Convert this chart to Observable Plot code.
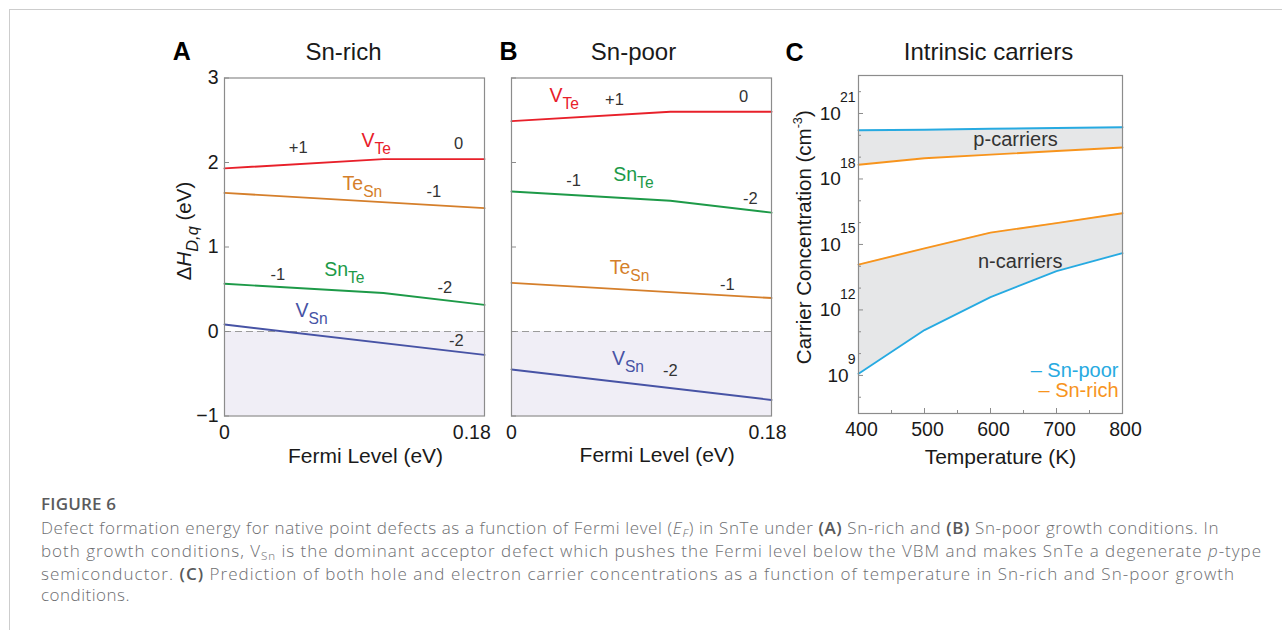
<!DOCTYPE html>
<html>
<head>
<meta charset="utf-8">
<script src="https://cdn.jsdelivr.net/npm/d3@7"></script>
<script src="https://cdn.jsdelivr.net/npm/@observablehq/plot@0.6"></script>
<style>
  html, body { margin: 0; padding: 0; background: #fff; }
  body { width: 1282px; height: 630px; overflow: hidden; position: relative; }
  #border { position: absolute; left: 9px; top: 9px; width: 1400px; height: 800px;
            border-top: 1px solid #cdcdcd; border-left: 1px solid #cdcdcd; }
  .panel { position: absolute; }
  .panel svg { max-width: none; overflow: visible; background: transparent; }
  #caption { position: absolute; left: 41px; top: 493px; font-family: "Open Sans", sans-serif; color: #6d6e71; }
  #caption .head { font-size: 17px; font-weight: 600; color: #5a5b5d; line-height: 21px; letter-spacing: 0.2px; }
  #caption .lines { position: absolute; left: 0; top: 24px; font-size: 17px; font-weight: 300; line-height: 21px; white-space: nowrap; }
  #caption .cap-line { display: inline-block; }
  #caption b { font-weight: 600; color: #58595b; }
  #caption sub { font-size: 0.68em; vertical-align: baseline; position: relative; top: 0.28em; }
</style>
</head>
<body>
<div id="border"></div>
<div id="chart"></div>
<div id="caption">
  <div class="head">FIGURE 6</div>
  <div class="lines">
    <div><span class="cap-line" data-w="1178">Defect formation energy for native point defects as a function of Fermi level (<i>E<sub>F</sub></i>) in SnTe under <b>(A)</b> Sn-rich and <b>(B)</b> Sn-poor growth conditions. In</span></div>
    <div><span class="cap-line" data-w="1221">both growth conditions, V<sub>Sn</sub> is the dominant acceptor defect which pushes the Fermi level below the VBM and makes SnTe a degenerate <i>p</i>-type</span></div>
    <div><span class="cap-line" data-w="1194">semiconductor. <b>(C)</b> Prediction of both hole and electron carrier concentrations as a function of temperature in Sn-rich and Sn-poor growth</span></div>
    <div><span class="cap-line" data-w="89">conditions.</span></div>
  </div>
</div>
<script>
// ===================== DATA =====================
// Panels A & B: defect formation energy vs Fermi level
const fermiDomain = [0, 0.18];
const fermiTicks = [0, 0.18];
const energyDomain = [-1, 3];
const energyTicks = [-1, 0, 1, 2, 3];
const vbmLevel = 0;

const defectKeys = ["VTe", "TeSn", "SnTe", "VSn"];
const defectColors = { VTe: "#e8202a", TeSn: "#d57f2b", SnTe: "#1d9a48", VSn: "#4753a5" };

// [Fermi level (eV), ΔH (eV)] : end points and transition levels
const snRichVTe  = [[0, 1.93], [0.11, 2.04], [0.18, 2.04]];
const snRichTeSn = [[0, 1.64], [0.18, 1.46]];
const snRichSnTe = [[0, 0.565], [0.11, 0.455], [0.18, 0.315]];
const snRichVSn  = [[0, 0.083], [0.18, -0.277]];

const snPoorVTe  = [[0, 2.49], [0.11, 2.60], [0.18, 2.60]];
const snPoorSnTe = [[0, 1.657], [0.11, 1.547], [0.18, 1.407]];
const snPoorTeSn = [[0, 0.576], [0.18, 0.396]];
const snPoorVSn  = [[0, -0.45], [0.18, -0.81]];

// labels: defect names and charge states, placed at (Fermi level, ΔH)
const snRichLabels = [
  { label: "+1", ef: 0.051, dh: 2.17 },
  { label: "V_{Te}", ef: 0.105, dh: 2.26, defect: "VTe" },
  { label: "0", ef: 0.162, dh: 2.22 },
  { label: "Te_{Sn}", ef: 0.0955, dh: 1.75, defect: "TeSn" },
  { label: "-1", ef: 0.145, dh: 1.657 },
  { label: "-1", ef: 0.037, dh: 0.669 },
  { label: "Sn_{Te}", ef: 0.083, dh: 0.734, defect: "SnTe" },
  { label: "-2", ef: 0.1526, dh: 0.524 },
  { label: "V_{Sn}", ef: 0.0603, dh: 0.240, defect: "VSn" },
  { label: "-2", ef: 0.1605, dh: -0.112 }
];
const snPoorLabels = [
  { label: "V_{Te}", ef: 0.0365, dh: 2.79, defect: "VTe" },
  { label: "+1", ef: 0.0713, dh: 2.746 },
  { label: "0", ef: 0.1606, dh: 2.78 },
  { label: "-1", ef: 0.0429, dh: 1.787 },
  { label: "Sn_{Te}", ef: 0.0844, dh: 1.85, defect: "SnTe" },
  { label: "-2", ef: 0.1654, dh: 1.57 },
  { label: "Te_{Sn}", ef: 0.0817, dh: 0.757, defect: "TeSn" },
  { label: "-1", ef: 0.1495, dh: 0.556 },
  { label: "V_{Sn}", ef: 0.0806, dh: -0.32, defect: "VSn" },
  { label: "-2", ef: 0.110, dh: -0.46 }
];

// Panel C: intrinsic carriers vs temperature
const temperatures = [400, 500, 600, 700, 800];
const holesSnPoor     = [1.7e20, 1.8e20, 2.0e20, 2.15e20, 2.35e20];
const holesSnRich     = [4.5e18, 8.9e18, 1.3e19, 1.9e19, 2.75e19];
const electronsSnRich = [1.2e14, 6.6e14, 3.5e15, 9.5e15, 2.7e16];
const electronsSnPoor = [1.2e9, 1.2e11, 3.9e12, 6.0e13, 4.0e14];
const tempDomain = [400, 800];
const tempLabels = [400, 500, 600, 700, 800];
const tempMajor = [500, 600, 700];
const tempMinor = [450, 550, 650, 750];
const concDomain = [1.8e7, 5.5e22];
const decadeLabels = [1e9, 1e12, 1e15, 1e18, 1e21];
const decadeMinor = [1e8, 1e10, 1e11, 1e13, 1e14, 1e16, 1e17, 1e19, 1e20, 1e22];
const legendNames = ["Sn-poor", "Sn-rich"];
const seriesColors = { "Sn-poor": "#27aae1", "Sn-rich": "#f7941d" };
const regionLabels = [
  { text: "p-carriers", T: 638, n: 6.3e19 },
  { text: "n-carriers", T: 645, n: 1.6e14 }
];

// ===================== RENDER =====================
const FONT = '"Liberation Sans", Arial, Helvetica, sans-serif';
const FRAME = "#8c8c8c";
const INK = "#1a1a1a";

function richify(svg) {
  d3.select(svg).selectAll("text").each(function () {
    const el = this;
    const s = el.textContent;
    if (!/[_^*]/.test(s) || el.querySelector("tspan")) return;
    const fs = parseFloat(getComputedStyle(el).fontSize);
    const parts = s.match(/\^\^\{[^}]*\}|\^\{[^}]*\}|_\{[^}]*\}|\*[^*]+\*|[^_^*]+/g);
    el.textContent = "";
    let shift = 0;
    for (const p of parts) {
      let txt = p, size = null, target = 0, italic = false, dx = 0;
      if (p.startsWith("^^{")) { txt = p.slice(3, -1); size = fs * 0.74; target = -0.9 * fs; dx = -1; }
      else if (p.startsWith("^{")) { txt = p.slice(2, -1); size = fs * 0.62; target = -0.42 * fs; }
      else if (p.startsWith("_{")) { txt = p.slice(2, -1); size = fs * 0.8; target = 0.36 * fs; }
      else if (p.startsWith("*")) { txt = p.slice(1, -1); italic = true; }
      if (txt.length > 1 && txt.startsWith("*") && txt.endsWith("*")) { txt = txt.slice(1, -1); italic = true; }
      const t = document.createElementNS("http://www.w3.org/2000/svg", "tspan");
      t.textContent = txt;
      if (size) t.setAttribute("font-size", size);
      if (italic) t.setAttribute("font-style", "italic");
      if (dx) t.setAttribute("dx", dx);
      if (target !== shift) { t.setAttribute("dy", target - shift); shift = target; }
      el.appendChild(t);
    }
  });
}

function mount(svg, left, top) {
  const div = document.createElement("div");
  div.className = "panel";
  div.style.left = left + "px";
  div.style.top = top + "px";
  div.appendChild(svg);
  document.getElementById("chart").appendChild(div);
  richify(svg);
}

function defectPanel(cfg) {
  const W = cfg.width, H = 460;
  const mT = 57.5, mB = 64.5;
  const frameW = W - cfg.marginLeft - cfg.marginRight;
  const band = [{ x1: fermiDomain[0], x2: fermiDomain[1], y1: energyDomain[0], y2: vbmLevel }];
  const marks = [
    Plot.rect(band, { x1: "x1", x2: "x2", y1: "y1", y2: "y2", fill: "#f0eef6" }),
    Plot.ruleY([vbmLevel], { stroke: "#9b9b9b", strokeWidth: 1.2, strokeDasharray: "7,4" }),
    ...cfg.lines.map(l => Plot.line(l.pts, { x: d => d[0], y: d => d[1], stroke: defectColors[l.key], strokeWidth: 1.9 })),
    ...defectKeys.map(k => Plot.text(cfg.labels.filter(d => d.defect === k), {
      x: "ef", y: "dh", text: "label", fill: defectColors[k], fontSize: 19.5,
      textAnchor: "middle", lineAnchor: "middle"
    })),
    Plot.text(cfg.labels.filter(d => !d.defect), {
      x: "ef", y: "dh", text: "label", fill: "#333", fontSize: 16.5, textAnchor: "middle", lineAnchor: "middle"
    }),
    Plot.frame({ stroke: FRAME, strokeWidth: 1.2 }),
    Plot.tickY(energyTicks, { y: d => d, stroke: FRAME, strokeWidth: 1, insetRight: frameW - 5 }),
    Plot.axisX([fermiTicks[0]], { tickSize: 0, tickPadding: 9.5, tickFormat: d => String(d), label: null, fill: INK, fontSize: 19.5 }),
    Plot.axisX([fermiTicks[1]], { tickSize: 0, tickPadding: 9.5, tickFormat: d => String(d), label: null, dx: cfg.tickEndDx, fill: INK, fontSize: 19.5 }),
    Plot.text([cfg.xLabel], { frameAnchor: "bottom", text: d => d, textAnchor: "middle", lineAnchor: "middle",
      dx: cfg.xLabelDx, dy: cfg.xLabelDy, fontSize: 21, fill: INK }),
    Plot.text([cfg.title], { frameAnchor: "top", text: d => d, textAnchor: "middle", lineAnchor: "middle",
      dx: cfg.titleDx, dy: -26, fontSize: 24, fill: INK }),
    Plot.text([cfg.letter], { frameAnchor: "top-left", text: d => d, textAnchor: "start", lineAnchor: "middle",
      dx: cfg.letterDx, dy: -26, fontSize: 25, fontWeight: "bold", fill: "#000" })
  ];
  if (cfg.showY) {
    marks.push(
      Plot.axisY(energyTicks, { tickSize: 0, tickPadding: 6, label: null, fill: INK, fontSize: 19.5,
        tickFormat: d => d < 0 ? "\u2212" + (-d) : String(d) }),
      Plot.text([cfg.yLabel], { frameAnchor: "left", text: d => d, rotate: -90, textAnchor: "middle", lineAnchor: "middle",
        dx: -40.5, dy: -16, fontSize: 20.5, fill: INK })
    );
  }
  return Plot.plot({
    width: W, height: H,
    marginLeft: cfg.marginLeft, marginRight: cfg.marginRight, marginTop: mT, marginBottom: mB,
    style: { fontFamily: FONT, fontSize: "19px", color: INK, background: "transparent", overflow: "visible" },
    x: { domain: fermiDomain, axis: null },
    y: { domain: energyDomain, axis: null },
    marks
  });
}

// Panel A
mount(defectPanel({
  width: 350, marginLeft: 74, marginRight: 16,
  lines: [
    { key: "VTe", pts: snRichVTe }, { key: "TeSn", pts: snRichTeSn },
    { key: "SnTe", pts: snRichSnTe }, { key: "VSn", pts: snRichVSn }
  ],
  labels: snRichLabels, showY: true,
  title: "Sn-rich", titleDx: -11, letter: "A", letterDx: -51.7,
  xLabel: "Fermi Level (eV)", xLabelDx: 11, xLabelDy: 40.5, tickEndDx: -12.7,
  yLabel: "Δ*H*_{*D,q*} (eV)"
}), 150, 20);

// Panel B
mount(defectPanel({
  width: 300, marginLeft: 21, marginRight: 19,
  lines: [
    { key: "VTe", pts: snPoorVTe }, { key: "SnTe", pts: snPoorSnTe },
    { key: "TeSn", pts: snPoorTeSn }, { key: "VSn", pts: snPoorVSn }
  ],
  labels: snPoorLabels, showY: false,
  title: "Sn-poor", titleDx: -8, letter: "B", letterDx: -12,
  xLabel: "Fermi Level (eV)", xLabelDx: 15.7, xLabelDy: 39.5, tickEndDx: -4
}), 490, 20);

// Panel C
{
  const W = 360, H = 460, mL = 78, mR = 18, mT = 55, mB = 67;
  const frameW = W - mL - mR, frameH = H - mT - mB;
  const rows = temperatures.map((T, i) => ({
    T, pPoor: holesSnPoor[i], pRich: holesSnRich[i], nRich: electronsSnRich[i], nPoor: electronsSnPoor[i]
  }));
  const svg = Plot.plot({
    width: W, height: H, marginLeft: mL, marginRight: mR, marginTop: mT, marginBottom: mB,
    style: { fontFamily: FONT, fontSize: "19px", color: INK, background: "transparent", overflow: "visible" },
    x: { domain: tempDomain, axis: null, label: null },
    y: { type: "log", domain: concDomain, axis: null, label: null },
    marks: [
      Plot.areaY(rows, { x: "T", y1: "pRich", y2: "pPoor", fill: "#e6e7e8" }),
      Plot.areaY(rows, { x: "T", y1: "nPoor", y2: "nRich", fill: "#e6e7e8" }),
      Plot.line(rows, { x: "T", y: "pPoor", stroke: seriesColors["Sn-poor"], strokeWidth: 1.9 }),
      Plot.line(rows, { x: "T", y: "nPoor", stroke: seriesColors["Sn-poor"], strokeWidth: 1.9 }),
      Plot.line(rows, { x: "T", y: "pRich", stroke: seriesColors["Sn-rich"], strokeWidth: 1.9 }),
      Plot.line(rows, { x: "T", y: "nRich", stroke: seriesColors["Sn-rich"], strokeWidth: 1.9 }),
      Plot.text(regionLabels, { x: "T", y: "n", text: "text", fill: "#333", fontSize: 20, textAnchor: "middle", lineAnchor: "middle" }),
      ...legendNames.map((name, i) => Plot.text([name], {
        frameAnchor: "bottom-right", text: d => "\u2013 " + d, fill: seriesColors[name],
        textAnchor: "end", lineAnchor: "middle", dx: -4, dy: -42.5 + 20 * i, fontSize: 20
      })),
      Plot.frame({ stroke: FRAME, strokeWidth: 1.2 }),
      Plot.tickY(decadeLabels, { y: d => d, stroke: FRAME, insetRight: frameW - 5 }),
      Plot.tickY(decadeMinor, { y: d => d, stroke: FRAME, insetRight: frameW - 3 }),
      Plot.tickX(tempMajor, { x: d => d, stroke: FRAME, insetTop: frameH - 5 }),
      Plot.tickX(tempMinor, { x: d => d, stroke: FRAME, insetTop: frameH - 3 }),
      Plot.axisY(decadeLabels, { tickSize: 0, tickPadding: 3, label: null, fill: INK, fontSize: 19,
        tickFormat: d => "10^^{" + Math.round(Math.log10(d)) + "}" }),
      Plot.axisX(tempLabels, { tickSize: 0, tickPadding: 8.7, dx: 3, label: null, fill: INK, fontSize: 19.5, tickFormat: d => String(d) }),
      Plot.text(["Temperature (K)"], { frameAnchor: "bottom", text: d => d, textAnchor: "middle", lineAnchor: "middle",
        dx: 10, dy: 43.3, fontSize: 21, fill: INK }),
      Plot.text(["Carrier Concentration (cm^{-3})"], { frameAnchor: "left", text: d => d, rotate: -90,
        textAnchor: "middle", lineAnchor: "middle", dx: -54.5, dy: -7.3, fontSize: 20.5, fill: INK }),
      Plot.text(["Intrinsic carriers"], { frameAnchor: "top", text: d => d, textAnchor: "middle", lineAnchor: "middle",
        dx: -2, dy: -23.3, fontSize: 24, fill: INK }),
      Plot.text(["C"], { frameAnchor: "top-left", text: d => d, textAnchor: "start", lineAnchor: "middle",
        dx: -73, dy: -22.7, fontSize: 25, fontWeight: "bold", fill: "#000" })
    ]
  });
  mount(svg, 780, 20);
}

// caption: fit each line to the measured width of the original
document.querySelectorAll("#caption .cap-line").forEach(el => {
  const target = +el.dataset.w;
  el.style.letterSpacing = "0px";
  const w = el.getBoundingClientRect().width;
  const n = el.textContent.length;
  el.style.letterSpacing = ((target - w) / n).toFixed(3) + "px";
});
</script>
</body>
</html>
